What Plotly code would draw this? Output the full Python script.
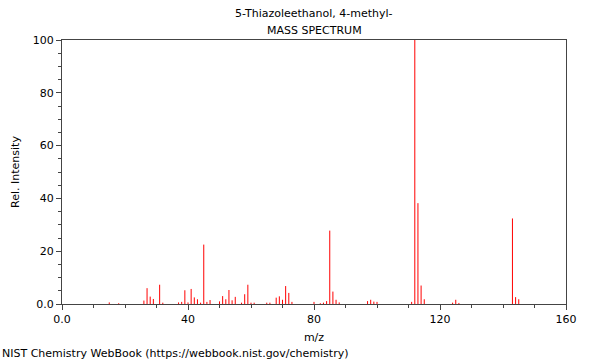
import plotly.graph_objects as go

mz = [15, 18, 26, 27, 28, 29, 31, 32, 37, 38, 39, 40, 41, 42, 43, 44, 45, 46, 47,
      50, 51, 52, 53, 54, 55, 57, 58, 59, 60, 61, 65, 66, 68, 69, 70, 71, 72, 73,
      80, 82, 83, 84, 85, 86, 87, 88, 97, 98, 99, 100, 111, 112, 113, 114, 115,
      124, 125, 126, 143, 144, 145]
intensity = [0.6, 0.3, 1.3, 6.0, 2.8, 1.9, 7.3, 0.5, 0.6, 0.8, 5.2, 0.6, 5.7, 2.5, 1.8, 0.5, 22.5, 0.8, 1.5,
             1.0, 3.0, 1.8, 5.3, 1.4, 2.7, 0.5, 3.7, 7.3, 0.5, 0.5, 0.5, 0.5, 2.4, 2.9, 1.6, 6.8, 4.2, 0.8,
             0.8, 0.3, 0.5, 1.1, 27.8, 4.7, 1.6, 0.6, 1.1, 1.6, 0.9, 0.8, 0.8, 100.0, 38.2, 7.0, 1.8,
             0.5, 1.6, 0.4, 32.4, 2.6, 1.8]

x_ticks = [0, 40, 80, 120, 160]
x_tick_labels = ["0.0", "40", "80", "120", "160"]
y_ticks = [0, 20, 40, 60, 80, 100]
y_tick_labels = ["0.0", "20", "40", "60", "80", "100"]

title_line1 = "5-Thiazoleethanol, 4-methyl-"
title_line2 = "MASS SPECTRUM"
footer = "NIST Chemistry WebBook (https://webbook.nist.gov/chemistry)"

xs, ys = [], []
for m, v in zip(mz, intensity):
    xs += [m, m, None]
    ys += [0, v, None]

FONT = "DejaVu Sans"
AX = "#444444"

fig = go.Figure()
fig.add_trace(go.Scatter(x=xs, y=ys, mode="lines",
                         line=dict(color="#ff0000", width=1),
                         hoverinfo="skip", showlegend=False))

fig.update_layout(
    width=600, height=360,
    margin=dict(l=62, r=34, t=40, b=56),
    paper_bgcolor="white", plot_bgcolor="white",
    font=dict(family=FONT, size=11, color="#000000"),
    showlegend=False,
)
fig.update_xaxes(
    range=[0, 160], tickvals=x_ticks, ticktext=x_tick_labels,
    showline=True, mirror=True, linecolor=AX, linewidth=1,
    ticks="outside", ticklen=5, tickcolor=AX,
    minor=dict(dtick=10, ticks="outside", ticklen=3, tickcolor=AX),
    showgrid=False, zeroline=False,
    title=dict(text="m/z", font=dict(family=FONT, size=11), standoff=8),
    tickfont=dict(family=FONT, size=11),
)
fig.update_yaxes(
    range=[0, 100], tickvals=y_ticks, ticktext=y_tick_labels,
    showline=True, mirror=True, linecolor=AX, linewidth=1,
    ticks="outside", ticklen=5, tickcolor=AX,
    minor=dict(dtick=5, ticks="outside", ticklen=3, tickcolor=AX),
    showgrid=False, zeroline=False,
    title=dict(text="Rel. Intensity", font=dict(family=FONT, size=11), standoff=10),
    tickfont=dict(family=FONT, size=11),
)

fig.add_annotation(text=title_line1, xref="paper", yref="paper", x=0.5, y=1,
                   yshift=27, showarrow=False, xanchor="center", yanchor="middle",
                   font=dict(family=FONT, size=11))
fig.add_annotation(text=title_line2, xref="paper", yref="paper", x=0.5, y=1,
                   yshift=10, showarrow=False, xanchor="center", yanchor="middle",
                   font=dict(family=FONT, size=11))
fig.add_annotation(text=footer, xref="paper", yref="paper", x=-62/504, y=0,
                   yshift=-49, showarrow=False, xanchor="left", yanchor="middle",
                   font=dict(family=FONT, size=11))

fig.write_html("out.html",
               config={"displayModeBar": False},
               post_script="document.body.style.margin='0';document.body.style.padding='0';"
                           "document.body.style.overflow='hidden';")
